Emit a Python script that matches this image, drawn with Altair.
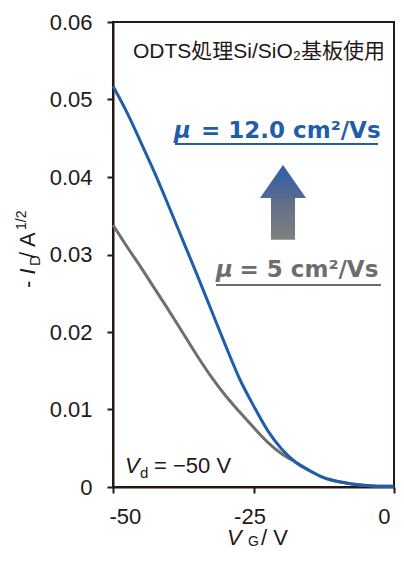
import altair as alt
import pandas as pd

# ---- data ----
vg = [-50, -47.5, -45, -42.5, -40, -37.5, -35, -32.5, -30, -27.5, -25,
      -22.5, -20, -17.5, -15, -12.5, -10, -7.5, -5, -2.5, 0]
blue_vals = [0.0517, 0.0483, 0.0444, 0.0404, 0.0361, 0.0317, 0.0273, 0.0228,
             0.0183, 0.0140, 0.0105, 0.0073, 0.0049, 0.0032, 0.0021, 0.0012,
             0.0007, 0.0004, 0.0002, 0.0001, 0.0001]
gray_vals = [0.0338, 0.0310, 0.0283, 0.0255, 0.0227, 0.0198, 0.0169, 0.0142,
             0.0118, 0.0097, 0.0077, 0.0058, 0.0043, 0.0032, 0.0021, 0.0012,
             0.0007, 0.0004, 0.0002, 0.0001, 0.0001]
series_names = ["mu5", "mu12"]
series_colors = ["#6f6f6f", "#1f5eaa"]
x_ticks = [-50, -25, 0]
y_ticks = [0, 0.01, 0.02, 0.03, 0.04, 0.05, 0.06]

# arrow (data units)
arrow_head_x = [-23.85, -19.75, -15.65]
arrow_head_y = [0.0373, 0.04155, 0.0373]
arrow_head_base = 0.0373
arrow_shaft = {"x": -21.89, "x2": -17.61, "y": 0.0373, "y2": 0.0319}

DARK = "#231815"
BLUE = "#1f5eaa"
GRAY = "#6d6d6d"
FONT = "Liberation Sans, Noto Sans CJK JP"
WIDE = "DejaVu Sans"

W, H = 281, 465

df = pd.DataFrame({
    "V": vg * 2,
    "I": gray_vals + blue_vals,
    "s": ["mu5"] * len(vg) + ["mu12"] * len(vg),
})

xs = alt.Scale(domain=[-50, 0], nice=False, zero=False)
ys = alt.Scale(domain=[0, 0.06], nice=False)

lines = alt.Chart(df).mark_line(strokeWidth=3, interpolate="monotone").encode(
    x=alt.X("V:Q", scale=xs,
            axis=alt.Axis(values=x_ticks, title=None,
                          labelExpr="datum.value == 0 ? '0' : '' + datum.value",
                          labelPadding=13, labelOffset=-4)),
    y=alt.Y("I:Q", scale=ys,
            axis=alt.Axis(values=y_ticks, title=None, format=".2~f",
                          labelPadding=15)),
    color=alt.Color("s:N", scale=alt.Scale(domain=series_names, range=series_colors),
                    legend=None),
)

head_df = pd.DataFrame({"V": arrow_head_x, "I": arrow_head_y,
                        "b": [arrow_head_base] * 3})
head = alt.Chart(head_df).mark_area(
    fill=alt.Gradient(gradient="linear",
                      stops=[alt.GradientStop(color="#2c5ea8", offset=0),
                             alt.GradientStop(color="#566b92", offset=1)],
                      x1=0, x2=0, y1=0, y2=1),
).encode(x=alt.X("V:Q", scale=xs), y=alt.Y("I:Q", scale=ys), y2="b:Q")

shaft = alt.Chart(pd.DataFrame([arrow_shaft])).mark_rect(
    fill=alt.Gradient(gradient="linear",
                      stops=[alt.GradientStop(color="#5d6c8b", offset=0),
                             alt.GradientStop(color="#808080", offset=1)],
                      x1=0, x2=0, y1=0, y2=1),
).encode(x=alt.X("x:Q", scale=xs), x2="x2:Q", y=alt.Y("y:Q", scale=ys), y2="y2:Q")


def txt(t, x, y, size=22, color=DARK, bold=False, italic=False, angle=0,
        align="left", baseline="alphabetic", font=FONT):
    kw = dict(fontSize=size, color=color, font=font, align=align,
              baseline=baseline, fontWeight="bold" if bold else "normal",
              fontStyle="italic" if italic else "normal")
    if angle:
        kw["angle"] = angle
    return alt.Chart(pd.DataFrame({"t": [t]})).mark_text(**kw).encode(
        x=alt.value(x), y=alt.value(y), text="t:N")


def rule(x1, x2, y, color):
    return alt.Chart(pd.DataFrame({"a": [0]})).mark_rule(
        color=color, strokeWidth=2).encode(
        x=alt.value(x1), x2=alt.value(x2), y=alt.value(y))


texts = [
    # y-axis title (rotated)
    txt("-", -78, 266, angle=270),
    txt("I", -78, 252.5, italic=True, angle=270),
    txt("D", -73, 244, size=15, angle=270),
    txt("/ A", -78, 236, angle=270),
    txt("1/2", -87, 208, size=14, angle=270),
    # x-axis title
    txt("V", 114, 522.5, italic=True),
    txt("G", 135, 524, size=14),
    txt("/ V", 148, 522.5),
    # annotations
    txt("ODTS処理Si/SiO₂基板使用", 146, 36, size=21, align="center"),
    txt("μ", 61, 116, size=23, color=BLUE, bold=True, italic=True, font=WIDE),
    txt("= 12.0 cm²/Vs", 88, 116, size=23, color=BLUE, bold=True, font=WIDE),
    rule(62, 265, 122, BLUE),
    txt("μ", 103, 255, size=23, color=GRAY, bold=True, italic=True, font=WIDE),
    txt("= 5 cm²/Vs", 126.5, 255, size=23, color=GRAY, bold=True, font=WIDE),
    rule(103, 268, 263, GRAY),
    txt("V", 12, 451, italic=True),
    txt("d", 27, 456, size=15),
    txt("= −50 V", 41, 451),
]

chart = alt.layer(lines, head, shaft, *texts).properties(
    width=W, height=H,
    autosize=alt.AutoSizeParams(type="none"),
    padding={"left": 105, "top": 14, "right": 2, "bottom": 60},
).configure_view(
    stroke=DARK, strokeWidth=2,
).configure_axis(
    domainColor=DARK, domainWidth=2, tickColor=DARK, tickWidth=2, tickSize=6,
    grid=False, labelFont=FONT, labelFontSize=22, labelColor=DARK,
)

chart.save("out.html", embed_options={"renderer": "svg", "actions": False})
